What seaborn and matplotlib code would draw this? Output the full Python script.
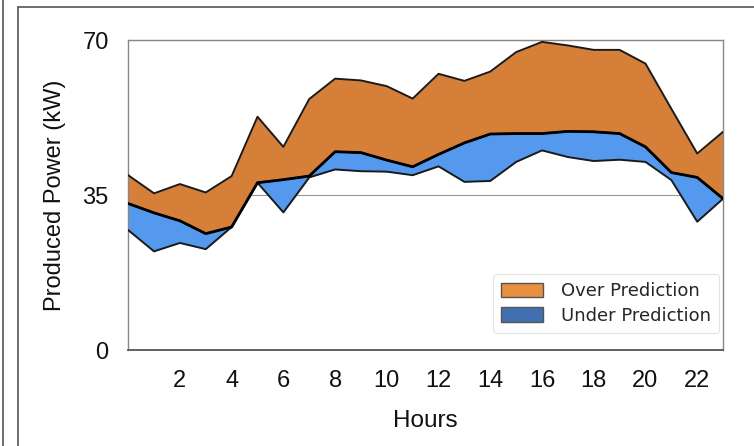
import numpy as np
import pandas as pd
import matplotlib
matplotlib.use("Agg")
import matplotlib.pyplot as plt
from matplotlib.patches import Patch
from matplotlib.lines import Line2D
import seaborn as sns

# Data (kW per hour)
hours = list(range(24))
upper = [39.5, 35.4, 37.5, 35.6, 39.3, 52.7, 45.9, 56.7, 61.3, 60.9, 59.6, 56.8,
         62.4, 60.8, 62.9, 67.3, 69.6, 68.8, 67.8, 67.8, 64.7, 54.5, 44.4, 49.3]
actual = [33.1, 31.0, 29.2, 26.3, 27.8, 37.8, 38.5, 39.3, 44.8, 44.6, 42.9, 41.4,
          44.2, 46.8, 48.8, 48.9, 48.9, 49.4, 49.3, 48.9, 45.9, 40.1, 39.0, 34.2]
lower = [27.1, 22.3, 24.2, 22.8, 27.8, 37.8, 31.1, 39.0, 40.8, 40.4, 40.3, 39.5,
         41.5, 38.0, 38.2, 42.5, 45.1, 43.6, 42.7, 43.0, 42.5, 38.4, 29.0, 34.2]
y_ticks = [0, 35, 70]
x_ticks = list(range(2, 23, 2))

ORANGE = "#D67F38"
BLUE = "#5599EE"
LEG_ORANGE = "#E8903F"
LEG_BLUE = "#4170B0"

sns.set_style("white")
plt.rcParams["font.family"] = ["Liberation Sans", "DejaVu Sans"]

df = pd.DataFrame({"hour": hours, "upper": upper, "actual": actual, "lower": lower})
long_df = df.melt(id_vars="hour", var_name="series", value_name="kW")

fig = plt.figure(figsize=(7.54, 4.46), dpi=100)
ax = fig.add_axes([0.170, 0.215, 0.789, 0.695])

ax.fill_between(df["hour"], df["actual"], df["upper"], color=ORANGE, lw=0, zorder=2)
ax.fill_between(df["hour"], df["lower"], df["actual"], color=BLUE, lw=0, zorder=2)

sns.lineplot(data=long_df, x="hour", y="kW", units="series", estimator=None,
             color="#1a1a1a", lw=1.4, ax=ax, zorder=3)
sns.lineplot(data=df, x="hour", y="actual", color="black", lw=2.0, ax=ax, zorder=4)

ax.set_xlim(0, 23)
ax.set_ylim(0, 70)
ax.set_yticks(y_ticks)
ax.set_xticks(hours)
ax.set_xticklabels([str(h) if h in x_ticks else "" for h in hours])
ax.yaxis.grid(True, color="#999999", lw=0.8, zorder=0)
ax.set_axisbelow(True)

ax.tick_params(axis="x", direction="inout", length=5, width=1, color="#444444",
               labelsize=17, pad=12, labelcolor="#111111")
ax.tick_params(axis="y", length=0, labelsize=17, pad=14, labelcolor="#111111")
ax.set_xlabel("Hours", fontsize=17.5, labelpad=13, color="#111111")
ax.set_ylabel("Produced Power (kW)", fontsize=17, labelpad=12, color="#111111")

for side in ["left", "top", "right"]:
    ax.spines[side].set_color("#888888")
    ax.spines[side].set_linewidth(1.0)
ax.spines["bottom"].set_color("#555555")
ax.spines["bottom"].set_linewidth(1.3)

handles = [Patch(facecolor=LEG_ORANGE, edgecolor="#555555", label="Over Prediction"),
           Patch(facecolor=LEG_BLUE, edgecolor="#555555", label="Under Prediction")]
leg = ax.legend(handles=handles, loc="lower right", bbox_to_anchor=(1.008, 0.027),
                prop={"family": "DejaVu Sans", "size": 13}, frameon=True,
                handlelength=2.3, handleheight=0.85, labelspacing=0.35,
                borderpad=0.45, handletextpad=1.0, fancybox=True)
leg.get_frame().set_edgecolor("#dddddd")
leg.get_frame().set_linewidth(0.8)

# outer panel frame lines
fig.add_artist(Line2D([18 / 754, 1.0], [1 - 7 / 446, 1 - 7 / 446],
                      transform=fig.transFigure, color="#555555", lw=1.2))
fig.add_artist(Line2D([18 / 754, 18 / 754], [0, 1 - 7 / 446],
                      transform=fig.transFigure, color="#555555", lw=1.2))
fig.add_artist(Line2D([3 / 754, 3 / 754], [0, 1],
                      transform=fig.transFigure, color="#555555", lw=1.2))

fig.savefig("out.png", dpi=100)
